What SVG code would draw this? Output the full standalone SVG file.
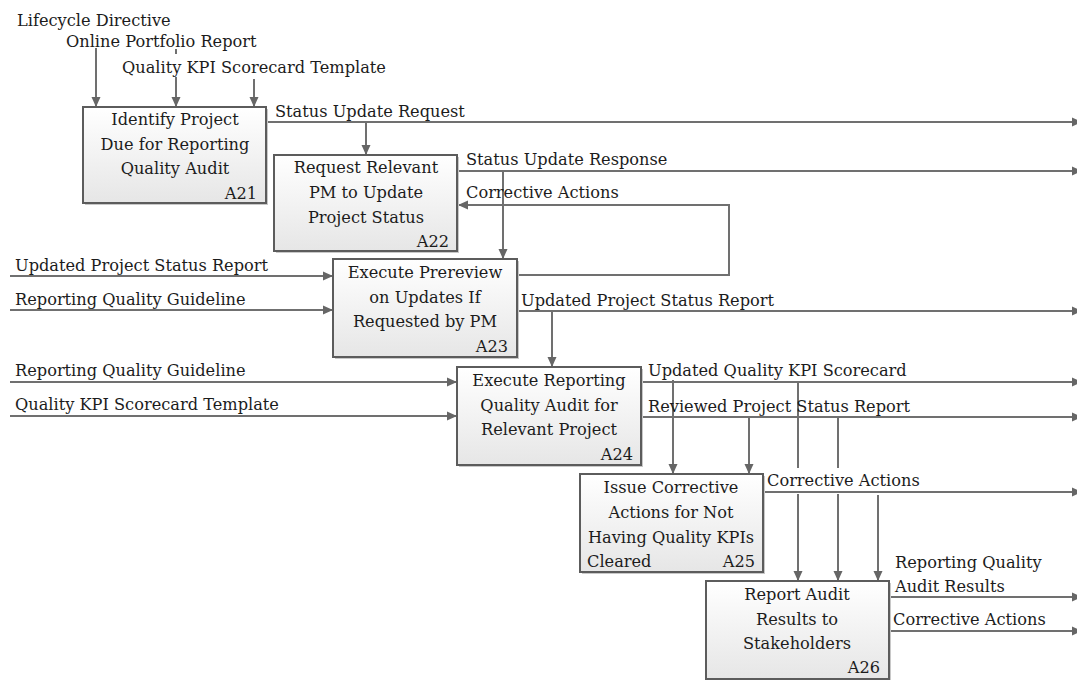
<svg xmlns="http://www.w3.org/2000/svg" width="1077" height="680" viewBox="0 0 1077 680">
  <defs>
    <linearGradient id="boxFill" x1="0" y1="0" x2="0" y2="1">
      <stop offset="0" stop-color="#ffffff"/>
      <stop offset="1" stop-color="#e6e6e6"/>
    </linearGradient>
    <marker id="arrow" viewBox="0 0 10 10" refX="10" refY="5" markerWidth="10" markerHeight="10" markerUnits="userSpaceOnUse" orient="auto">
      <path d="M0,0.5 L10,5 L0,9.5 Z" fill="#666666"/>
    </marker>
  </defs>
  <style>
    text { font-family: "DejaVu Serif", serif; font-size: 16.2px; fill: #1c1c1c; }
    .box { fill: url(#boxFill); stroke: #5c5c5c; stroke-width: 2; }
    .shadow { fill: #c8c8c8; }
    .mid { text-anchor: middle; }
    .end { text-anchor: end; }
    .flow { fill: none; stroke: #707070; stroke-width: 2; }
  </style>
  <rect width="1077" height="680" fill="#ffffff"/>

  <!-- connectors and their labels -->
  <g id="connectors">
    <!-- controls into A21 -->
    <path class="flow" d="M96,48 V107" marker-end="url(#arrow)"/>
    <path class="flow" d="M176,49 V54 M176,77 V107" marker-end="url(#arrow)"/>
    <path class="flow" d="M254,79 V107" marker-end="url(#arrow)"/>
    <!-- Status Update Request -->
    <path class="flow" d="M266,122 H1082" marker-end="url(#arrow)"/>
    <path class="flow" d="M366,122 V155" marker-end="url(#arrow)"/>
    <!-- Status Update Response -->
    <path class="flow" d="M458,171 H1082" marker-end="url(#arrow)"/>
    <path class="flow" d="M503,171 V259" marker-end="url(#arrow)"/>
    <!-- Corrective Actions feedback loop -->
    <path class="flow" d="M517,275 H729 V205 H458" marker-end="url(#arrow)"/>
    <!-- inputs to A23 -->
    <path class="flow" d="M10,276 H333" marker-end="url(#arrow)"/>
    <path class="flow" d="M10,310 H333" marker-end="url(#arrow)"/>
    <!-- A23 output -->
    <path class="flow" d="M517,311 H1082" marker-end="url(#arrow)"/>
    <path class="flow" d="M552,311 V367" marker-end="url(#arrow)"/>
    <!-- inputs to A24 -->
    <path class="flow" d="M10,382 H457" marker-end="url(#arrow)"/>
    <path class="flow" d="M10,416 H457" marker-end="url(#arrow)"/>
    <!-- A24 outputs -->
    <path class="flow" d="M641,382 H1082" marker-end="url(#arrow)"/>
    <path class="flow" d="M641,417 H1082" marker-end="url(#arrow)"/>
    <path class="flow" d="M673,380 V474" marker-end="url(#arrow)"/>
    <path class="flow" d="M749,417 V474" marker-end="url(#arrow)"/>
    <path class="flow" d="M798,382 V468 M798,494 V581" marker-end="url(#arrow)"/>
    <path class="flow" d="M838,417 V468 M838,494 V581" marker-end="url(#arrow)"/>
    <!-- A25 output -->
    <path class="flow" d="M763,492 H1082" marker-end="url(#arrow)"/>
    <path class="flow" d="M878,495 V581" marker-end="url(#arrow)"/>
    <!-- A26 outputs -->
    <path class="flow" d="M889,597 H1082" marker-end="url(#arrow)"/>
    <path class="flow" d="M889,631 H1082" marker-end="url(#arrow)"/>

    <text x="17" y="26">Lifecycle Directive</text>
    <text x="66" y="47">Online Portfolio Report</text>
    <text x="122" y="73">Quality KPI Scorecard Template</text>
    <text x="275" y="117">Status Update Request</text>
    <text x="466" y="165">Status Update Response</text>
    <text x="466" y="198">Corrective Actions</text>
    <text x="15" y="271">Updated Project Status Report</text>
    <text x="15" y="305">Reporting Quality Guideline</text>
    <text x="521" y="306">Updated Project Status Report</text>
    <text x="15" y="376">Reporting Quality Guideline</text>
    <text x="15" y="410">Quality KPI Scorecard Template</text>
    <text x="648" y="376">Updated Quality KPI Scorecard</text>
    <text x="648" y="412">Reviewed Project Status Report</text>
    <text x="767" y="486">Corrective Actions</text>
    <text x="895" y="568">Reporting Quality</text>
    <text x="895" y="592">Audit Results</text>
    <text x="893" y="625">Corrective Actions</text>
  </g>

  <!-- activity boxes -->
  <g id="A21">
    <rect class="shadow" x="85" y="109" width="183" height="96"/>
    <rect class="box" x="83" y="107" width="183" height="96"/>
    <text class="mid" x="175" y="125">Identify Project</text>
    <text class="mid" x="175" y="150">Due for Reporting</text>
    <text class="mid" x="175" y="174">Quality Audit</text>
    <text class="end" x="257" y="199">A21</text>
  </g>
  <g id="A22">
    <rect class="shadow" x="276" y="157" width="183" height="96"/>
    <rect class="box" x="274" y="155" width="183" height="96"/>
    <text class="mid" x="366" y="173">Request Relevant</text>
    <text class="mid" x="366" y="198">PM to Update</text>
    <text class="mid" x="366" y="223">Project Status</text>
    <text class="end" x="449" y="247">A22</text>
  </g>
  <g id="A23">
    <rect class="shadow" x="335" y="261" width="184" height="98"/>
    <rect class="box" x="333" y="259" width="184" height="98"/>
    <text class="mid" x="425" y="278">Execute Prereview</text>
    <text class="mid" x="425" y="303">on Updates If</text>
    <text class="mid" x="425" y="327">Requested by PM</text>
    <text class="end" x="508" y="352">A23</text>
  </g>
  <g id="A24">
    <rect class="shadow" x="459" y="369" width="184" height="98"/>
    <rect class="box" x="457" y="367" width="184" height="98"/>
    <text class="mid" x="549" y="386">Execute Reporting</text>
    <text class="mid" x="549" y="411">Quality Audit for</text>
    <text class="mid" x="549" y="435">Relevant Project</text>
    <text class="end" x="633" y="460">A24</text>
  </g>
  <g id="A25">
    <rect class="shadow" x="582" y="476" width="183" height="98"/>
    <rect class="box" x="580" y="474" width="183" height="98"/>
    <text class="mid" x="671" y="493">Issue Corrective</text>
    <text class="mid" x="671" y="518">Actions for Not</text>
    <text class="mid" x="671" y="543">Having Quality KPIs</text>
    <text x="587" y="567">Cleared</text>
    <text class="end" x="755" y="567">A25</text>
  </g>
  <g id="A26">
    <rect class="shadow" x="708" y="583" width="183" height="98"/>
    <rect class="box" x="706" y="581" width="183" height="98"/>
    <text class="mid" x="797" y="600">Report Audit</text>
    <text class="mid" x="797" y="625">Results to</text>
    <text class="mid" x="797" y="649">Stakeholders</text>
    <text class="end" x="880" y="673">A26</text>
  </g>
</svg>
